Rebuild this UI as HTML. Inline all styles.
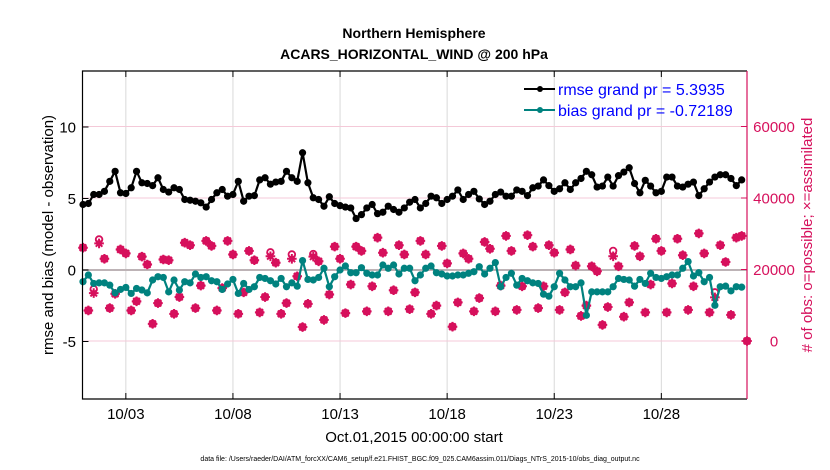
<!DOCTYPE html>
<html><head><meta charset="utf-8">
<style>
html,body{margin:0;padding:0;background:#fff;}
svg{display:block;font-family:"Liberation Sans",Arial,sans-serif;}
</style></head>
<body>
<svg id="chart" width="830" height="470" viewBox="0 0 830 470" xmlns="http://www.w3.org/2000/svg">
  <rect x="0" y="0" width="830" height="470" fill="#fff"/>
  <text x="414" y="38" text-anchor="middle" font-size="14" font-weight="bold">Northern Hemisphere</text>
  <text x="414" y="59" text-anchor="middle" font-size="14" font-weight="bold">ACARS_HORIZONTAL_WIND @ 200 hPa</text>
  <g id="grid"></g>
  <g id="series"></g>
  <g id="axes"></g>
  <text transform="translate(53,235) rotate(-90)" text-anchor="middle" font-size="15">rmse and bias (model - observation)</text>
  <text transform="translate(812,235) rotate(-90)" text-anchor="middle" font-size="15" fill="#d6105c"># of obs: o=possible; ×=assimilated</text>
  <text x="414" y="442" text-anchor="middle" font-size="15">Oct.01,2015 00:00:00 start</text>
  <text x="420" y="461" text-anchor="middle" font-size="7">data file: /Users/raeder/DAI/ATM_forcXX/CAM6_setup/f.e21.FHIST_BGC.f09_025.CAM6assim.011/Diags_NTrS_2015-10/obs_diag_output.nc</text>
  <g id="legend">
    <line x1="524" y1="89" x2="555" y2="89" stroke="#000" stroke-width="2"/>
    <circle cx="540" cy="89" r="3" fill="#000"/>
    <text x="558" y="95" font-size="16" fill="#0000ff">rmse grand pr = 5.3935</text>
    <line x1="524" y1="110" x2="555" y2="110" stroke="#00827f" stroke-width="2"/>
    <circle cx="540" cy="110" r="3" fill="#00827f"/>
    <text x="558" y="116" font-size="16" fill="#0000ff">bias grand pr = -0.72189</text>
  </g>
</svg>
<script>
// 6-hourly times (days since Oct 01 2015 00:00), index i -> i*0.25
const timeStep = 0.25;
const xTickDays = [2, 7, 12, 17, 22, 27];
const xTickLabels = ["10/03", "10/08", "10/13", "10/18", "10/23", "10/28"];
const yTicks = [-5, 0, 5, 10];
const yTickLabels = ["-5", "0", "5", "10"];
const rTicks = [0, 20000, 40000, 60000];
const rTickLabels = ["0", "20000", "40000", "60000"];
const rmse = [4.58,4.65,5.28,5.28,5.5,6.2,6.9,5.4,5.35,5.75,6.9,6.1,6.05,5.9,6.45,5.63,5.45,5.75,5.63,4.93,4.88,4.81,4.7,4.4,4.93,5.4,5.63,5.16,5.28,6.2,4.81,5.16,5.2,6.3,6.45,6.0,6.15,6.2,6.9,6.45,6.2,8.2,
6.1,5.05,4.93,4.46,5.12,4.65,4.5,4.4,4.34,3.6,3.87,4.34,4.58,3.94,4.04,4.46,4.23,4.04,4.34,4.74,4.93,4.34,4.65,5.16,5.05,4.65,4.93,5.16,5.6,4.93,5.28,5.5,4.97,4.58,4.81,5.28,5.45,5.16,
5.16,5.6,5.5,5.2,5.75,5.87,6.3,5.9,5.5,5.68,6.1,5.63,6.1,6.4,6.9,6.66,5.8,5.87,6.5,5.87,6.6,6.85,7.15,6.05,5.4,6.27,5.87,5.4,5.5,6.5,6.5,5.87,5.8,6.0,6.15,5.2,5.68,6.15,6.5,6.66,6.66,6.4,5.9,6.3,null];
const bias = [-0.82,-0.35,-0.94,-0.9,-0.9,-1.06,-1.6,-1.36,-1.22,-1.64,-1.29,-1.4,-1.6,-0.7,-0.47,-0.52,-1.53,-0.7,-1.4,-0.82,-0.9,-0.28,-0.52,-0.47,-0.75,-0.82,-1.36,-0.98,-0.66,-1.64,-0.94,-1.36,-1.17,-0.52,-0.59,-0.75,-0.98,-0.59,-1.17,-0.9,-1.13,0.66,
-0.66,-0.7,-0.52,0.12,-1.17,-0.47,0,0.28,-0.19,-0.19,0.16,-0.23,-0.35,-0.35,0.35,0.12,0.35,-0.28,0.12,0.12,-0.75,-0.35,0.12,0.28,-0.19,-0.28,-0.42,-0.42,-0.35,-0.35,-0.23,-0.12,0.23,-0.28,0.12,0.52,-1.17,-0.52,
-0.23,-1.06,-0.59,-0.75,-0.9,-0.94,-1.69,-1.83,-1.17,-0.23,-0.7,-1.17,-1.17,-0.9,-3.17,-1.53,-1.53,-1.53,-1.53,-1.17,-0.59,-0.66,-0.7,-1.13,-0.66,-0.94,-0.23,-0.52,-0.59,-0.47,-0.35,-0.35,0.12,0.59,-0.42,-0.19,-0.82,-0.52,-2.47,-1.17,-1.13,-1.46,-1.17,-1.2,null];
const nAssim = [26100,8540,13400,27300,23000,9200,13200,25600,24500,8540,11100,23600,21400,4800,10600,22800,22600,7600,12300,27500,26800,9200,15500,28000,26600,8540,14800,28000,24200,7600,13600,25200,22600,8000,12300,23700,21900,7600,10600,23000,18100,3900,
10400,23600,22300,5900,13000,26400,23000,7800,15800,26400,25200,8300,15300,28900,24700,8300,14200,26800,24200,8900,13600,28000,24200,7600,9900,26600,21700,4000,10800,24500,23000,8300,12000,27700,25800,8300,15500,29400,
25200,8700,15300,29600,26400,9200,15300,26800,24700,8700,13600,25600,21100,7000,9900,20900,19500,4500,9500,23700,20900,6800,10800,26600,23700,8000,15800,28600,25200,8000,16100,28600,24000,8700,15300,30100,24500,8000,12200,26800,22100,7300,28900,29400,0];
const nPoss = [26100,8540,14500,28400,23000,9200,13200,25600,24500,8540,11100,23600,21400,4800,10600,22800,22600,7600,12300,27500,26800,9200,15500,28000,26600,8540,14800,28000,24200,7600,13600,25200,22600,8000,12300,24800,21900,7600,10600,24200,18100,3900,
10400,24300,22300,5900,13000,26400,23000,7800,15800,26400,25200,8300,15300,28900,24700,8300,14200,26800,24200,8900,13600,28000,24200,7600,9900,26600,21700,4000,10800,24500,23000,8300,12000,27700,25800,8300,15500,29400,
25200,8700,15300,29600,26400,9200,15300,26800,24700,8700,13600,25600,21100,7000,9900,20900,19500,4500,9500,25200,20900,6800,10800,26600,23700,8000,15800,28600,25200,8000,16100,28600,24000,8700,15300,30100,24500,8000,13600,26800,22100,7300,28900,29400,0];

const NS = "http://www.w3.org/2000/svg";
const L = 82.5, R = 747, T = 71, B = 399;
const xOf = d => 83 + d * 21.42;
const yOf = v => 270 - v * 14.3;
const yR = c => 341 - c / 20000 * 71.5;
function mk(tag, attrs, parent) {
  const e = document.createElementNS(NS, tag);
  for (const k in attrs) e.setAttribute(k, attrs[k]);
  parent.appendChild(e);
  return e;
}
const grid = document.getElementById("grid");
const axes = document.getElementById("axes");
const series = document.getElementById("series");

xTickDays.forEach((d, i) => {
  const x = xOf(d);
  const g = mk("line", {x1: x, y1: T, x2: x, y2: B, stroke: "#d9d9d9", "stroke-width": 1}, grid);
  
  
  const t1 = mk("line", {x1: x, y1: B, x2: x, y2: B - 6, stroke: "#000", "stroke-width": 1}, axes);
  
  
  const t2 = mk("line", {x1: x, y1: T, x2: x, y2: T + 6, stroke: "#000", "stroke-width": 1}, axes);
  
  
  const lb = mk("text", {x: x, y: 419, "text-anchor": "middle", "font-size": 15}, axes);
  lb.textContent = xTickLabels[i];
  
  
});
rTicks.forEach((c, i) => {
  const y = yR(c);
  const g = mk("line", {x1: L, y1: y, x2: R, y2: y, stroke: "#f4c9d8", "stroke-width": 1}, grid);
  
  
  const t = mk("line", {x1: R, y1: y, x2: R - 6, y2: y, stroke: "#d6105c", "stroke-width": 1}, axes);
  
  
  const lb = mk("text", {x: 774, y: y + 5.5, "text-anchor": "middle", "font-size": 15, fill: "#d6105c"}, axes);
  lb.textContent = rTickLabels[i];
  
  
});
const zl = mk("line", {x1: L, y1: yOf(0), x2: R, y2: yOf(0), stroke: "#bdb3b6", "stroke-width": 2}, grid);


yTicks.forEach((v, i) => {
  const y = yOf(v);
  const t = mk("line", {x1: L, y1: y, x2: L + 6, y2: y, stroke: "#000", "stroke-width": 1}, axes);
  
  
  const lb = mk("text", {x: 76, y: y + 5.5, "text-anchor": "end", "font-size": 15}, axes);
  lb.textContent = yTickLabels[i];
  
  
});
const la = mk("path", {d: `M${R},${T} H${L} V${B} H${R}`, fill: "none", stroke: "#000", "stroke-width": 1.2}, axes);


const ra = mk("line", {x1: R, y1: T, x2: R, y2: B, stroke: "#d6105c", "stroke-width": 1.2}, axes);



// obs counts
const MAG = "#d6105c";
nPoss.forEach((c, i) => {
  const x = xOf(i * timeStep), y = yR(c);
  const o = mk("circle", {cx: x, cy: y, r: 3.3, fill: "none", stroke: MAG, "stroke-width": 1.8}, series);
  
  
});
nAssim.forEach((c, i) => {
  const x = xOf(i * timeStep), y = yR(c);
  const s = 4.8;
  const p = mk("path", {d: `M${x-s},${y}H${x+s}M${x},${y-s}V${y+s}M${x-3.3},${y-3.3}L${x+3.3},${y+3.3}M${x-3.3},${y+3.3}L${x+3.3},${y-3.3}`, stroke: MAG, "stroke-width": 2, fill: "none"}, series);
  
  
  const c2 = mk("circle", {cx: x, cy: y, r: 3, fill: MAG}, series);
  
  
});

function drawSeries(vals, color, name) {
  let d = "";
  vals.forEach((v, i) => {
    if (v === null) return;
    d += (d ? "L" : "M") + xOf(i * timeStep).toFixed(1) + "," + yOf(v).toFixed(1);
  });
  const p = mk("path", {d: d, fill: "none", stroke: color, "stroke-width": 2.2, "stroke-linejoin": "round"}, series);
  
  
  vals.forEach((v, i) => {
    if (v === null) return;
    const c = mk("circle", {cx: xOf(i * timeStep), cy: yOf(v), r: 3.6, fill: color}, series);
    
    
  });
}
drawSeries(bias, "#00827f", "bias");
drawSeries(rmse, "#000000", "rmse");
</script>
</body></html>
